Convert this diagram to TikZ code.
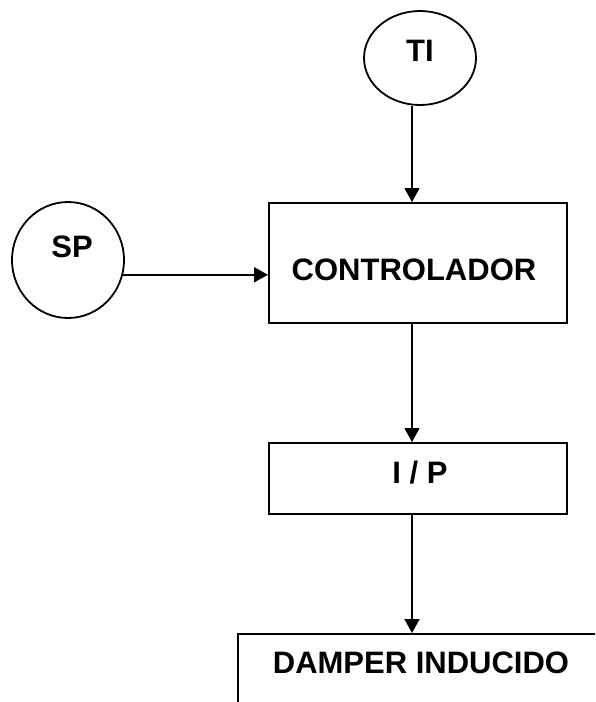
\documentclass[tikz,border=0pt]{standalone}
\usepackage{fontspec}
\setmainfont{Liberation Sans}
\usetikzlibrary{arrows.meta,calc,shapes.geometric}
\begin{document}
\begin{tikzpicture}[x=1pt,y=-1pt,
  line width=1.8pt,
  bub/.style={draw,ellipse,inner sep=0pt},
  blk/.style={draw,rectangle,inner sep=0pt,anchor=north west},
  lbl/.style={font=\fontsize{31}{37}\selectfont\bfseries,anchor=base,inner sep=0pt},
  arr/.style={-{Triangle[length=14pt,width=15pt]}}]
\useasboundingbox (0,0) rectangle (595,702);
\clip (0,0) rectangle (595,702);
\node[bub,minimum width=112pt,minimum height=94pt] (ti) at (420,58) {};
\node[bub,minimum width=112pt,minimum height=116pt] (sp) at (68,260) {};
\node[blk,minimum width=298pt,minimum height=120pt] (ctrl) at (268,202) {};
\node[blk,minimum width=298pt,minimum height=71pt] (ip) at (268,442) {};
\node[blk,minimum width=420pt,minimum height=140pt] (dmp) at (237,633) {};
\node[lbl] (tit) at (420,61) {TI};
\node[lbl] (spt) at (72,257) {SP};
\node[lbl] (ctrlt) at (414,280) {CONTROLADOR};
\node[lbl] (ipt) at (420,483) {I / P};
\node[lbl] (dmpt) at (421,673) {DAMPER INDUCIDO};
\coordinate (ax) at (412,0);
\draw[arr] (ti.south -| ax) -- (ctrl.north -| ax);
\draw[arr] (sp.-15) -- (sp.-15 -| ctrl.west);
\draw[arr] (ctrl.south -| ax) -- (ip.north -| ax);
\draw[arr] (ip.south -| ax) -- (dmp.north -| ax);
\end{tikzpicture}
\end{document}
